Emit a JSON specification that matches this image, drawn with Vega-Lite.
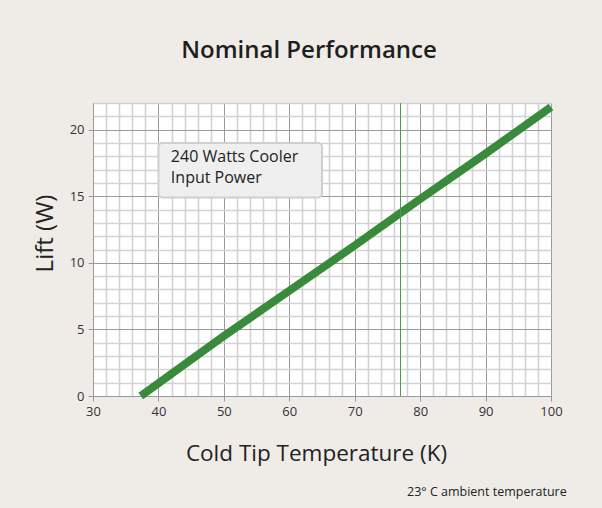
{
  "$schema": "https://vega.github.io/schema/vega-lite/v6.json",
  "width": 458,
  "height": 293,
  "autosize": "none",
  "padding": {"left": 93, "top": 103, "right": 51, "bottom": 112},
  "background": "#efece8",
  "title": {
    "text": "Nominal Performance",
    "font": "Open Sans",
    "fontSize": 24,
    "fontWeight": 600,
    "color": "#1e1e1e",
    "anchor": "middle",
    "dx": -13,
    "baseline": "alphabetic",
    "offset": 9
  },
  "config": {
    "view": {"fill": "white", "stroke": "#aaaaaa"},
    "font": "Open Sans"
  },
  "layer": [
    {
      "data": {"values": [
        {"temp": 37.3, "lift": 0},
        {"temp": 50, "lift": 4.5},
        {"temp": 60, "lift": 7.9},
        {"temp": 70, "lift": 11.3},
        {"temp": 80, "lift": 14.8},
        {"temp": 90, "lift": 18.2},
        {"temp": 100, "lift": 21.7}
      ]},
      "mark": {"type": "line", "color": "#3a8a3c", "strokeWidth": 8, "strokeCap": "butt"},
      "encoding": {
        "x": {
          "field": "temp", "type": "quantitative",
          "scale": {"domain": [30, 100], "nice": false, "zero": false},
          "axis": {
            "title": "Cold Tip Temperature (K)",
            "titleFont": "Open Sans",
            "titleFontSize": 22.5,
            "titleFontWeight": "normal",
            "titleColor": "#222222",
            "titlePadding": 24,
            "titleX": 223,
            "tickCount": 200,
            "format": "d",
            "values": [30,32,34,36,38,40,42,44,46,48,50,52,54,56,58,60,62,64,66,68,70,72,74,76,78,80,82,84,86,88,90,92,94,96,98,100],
            "labelExpr": "datum.value % 10 === 0 ? datum.label : ''",
            "labelOverlap": false,
            "labelFlush": false,
            "labelFontSize": 13,
            "labelColor": "#333333",
            "labelPadding": 4,
            "grid": true,
            "gridColor": {"condition": {"test": "datum.value % 10 === 0", "value": "#9a9a9a"}, "value": "#d2d2d2"},
            "gridWidth": {"condition": {"test": "datum.value % 10 === 0", "value": 1}, "value": 1.6},
            "gridOpacity": 1,
            "ticks": true,
            "tickSize": 5,
            "tickColor": "#999999",
            "tickOpacity": {"condition": {"test": "datum.value % 10 === 0", "value": 1}, "value": 0},
            "domainColor": "#999999"
          }
        },
        "y": {
          "field": "lift", "type": "quantitative",
          "scale": {"domain": [0, 22], "nice": false},
          "axis": {
            "title": "Lift (W)",
            "titleFont": "Open Sans",
            "titleFontSize": 24,
            "titleFontWeight": "normal",
            "titleColor": "#222222",
            "titlePadding": 12,
            "titleY": 130,
            "tickCount": 200,
            "format": "d",
            "values": [0,1,2,3,4,5,6,7,8,9,10,11,12,13,14,15,16,17,18,19,20,21,22],
            "labelExpr": "datum.value % 5 === 0 ? datum.label : ''",
            "labelOverlap": false,
            "labelFlush": false,
            "labelFontSize": 13,
            "labelColor": "#333333",
            "labelPadding": 4,
            "grid": true,
            "gridColor": {"condition": {"test": "datum.value % 5 === 0", "value": "#9a9a9a"}, "value": "#d2d2d2"},
            "gridWidth": {"condition": {"test": "datum.value % 5 === 0", "value": 1}, "value": 1.6},
            "gridOpacity": 1,
            "ticks": true,
            "tickSize": 5,
            "tickColor": "#999999",
            "tickOpacity": {"condition": {"test": "datum.value % 5 === 0", "value": 1}, "value": 0},
            "domainColor": "#999999"
          }
        }
      }
    },
    {
      "data": {"values": [{"temp": 77}]},
      "mark": {"type": "rule", "color": "#4a9e4a", "strokeWidth": 1},
      "encoding": {"x": {"field": "temp", "type": "quantitative"}}
    },
    {
      "data": {"values": [{"x1": 40.0, "x2": 65.0, "y1": 19.0, "y2": 14.9}]},
      "mark": {"type": "rect", "fill": "#efeff0", "stroke": "#cfcfcf", "strokeWidth": 2, "cornerRadius": 4},
      "encoding": {
        "x": {"field": "x1", "type": "quantitative"},
        "x2": {"field": "x2"},
        "y": {"field": "y1", "type": "quantitative"},
        "y2": {"field": "y2"}
      }
    },
    {
      "data": {"values": [
        {"tx": 41.9, "ty": 17.55, "label": ["240 Watts Cooler", "Input Power"]}
      ]},
      "mark": {"type": "text", "align": "left", "baseline": "alphabetic", "fontSize": 16, "lineHeight": 21, "font": "Open Sans", "color": "#222222"},
      "encoding": {
        "x": {"field": "tx", "type": "quantitative"},
        "y": {"field": "ty", "type": "quantitative"},
        "text": {"field": "label"}
      }
    },
    {
      "data": {"values": [{"tx": 90.2, "ty": -7.2, "label": "23° C ambient temperature"}]},
      "mark": {"type": "text", "align": "center", "baseline": "middle", "fontSize": 12.5, "font": "Open Sans", "color": "#222222", "clip": false},
      "encoding": {
        "x": {"field": "tx", "type": "quantitative"},
        "y": {"field": "ty", "type": "quantitative"},
        "text": {"field": "label"}
      }
    }
  ]
}
